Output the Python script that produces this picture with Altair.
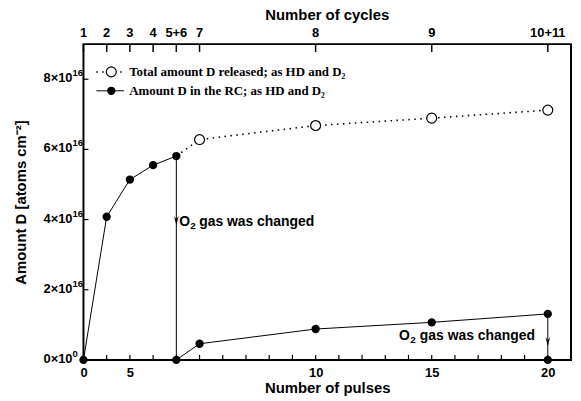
import altair as alt
import pandas as pd

# ---- data (y in units of 1e16 atoms cm^-2) ----
rc_x = [0, 1, 2, 3, 4, 4, 5, 10, 15, 20, 20]
rc_y = [0, 4.08, 5.14, 5.55, 5.81, 0, 0.46, 0.88, 1.07, 1.31, 0]
tot_x = [4, 5, 10, 15, 20]
tot_y = [5.81, 6.28, 6.68, 6.89, 7.12]
tot_open = [False, True, True, True, True]

pulse_ticks = list(range(0, 21))
pulse_label_pos = [0, 2, 10, 15, 20]
pulse_label_txt = ["0", "5", "10", "15", "20"]
cycle_pos = [0, 1, 2, 3, 4, 5, 10, 15, 20]
cycle_labels = ["1", "2", "3", "4", "5+6", "7", "8", "9", "10+11"]
y_ticks = [0, 2, 4, 6, 8]
y_base = ["0×10", "2×10", "4×10", "6×10", "8×10"]
y_exp = ["0", "16", "16", "16", "16"]

ann_x = [4, 20]
ann_y = [3.93, 0.68]
arrow_y = [3.97, 0.52]
ann_main = "O"
ann_sub = "2"
ann_rest = "gas was changed"

legend_text = ["Total amount D released; as HD and D₂", "Amount D in the RC; as HD and D₂"]

W, H = 491, 318
SANS = "Liberation Sans"
SERIF = "Liberation Serif"

xs = alt.Scale(domain=[0, 21], nice=False, zero=False)
ys = alt.Scale(domain=[0, 9], nice=False, zero=False)

rc = pd.DataFrame({"x": rc_x, "y": rc_y, "i": list(range(len(rc_x)))})
tot = pd.DataFrame({"x": tot_x, "y": tot_y, "open": tot_open, "i": list(range(len(tot_x)))})

bl = "+".join(
    [f"(datum.value=={p}?'{t}':'')" for p, t in zip(pulse_label_pos, pulse_label_txt)]
)

x_axis = alt.Axis(
    values=pulse_ticks, labelExpr=bl, ticks=False, domain=False, grid=False,
    labelFont=SANS, labelFontWeight="bold", labelFontSize=13, labelColor="black",
    labelPadding=7, labelFlush=False, labelOverlap=False,
    title="Number of pulses", titleFont=SANS, titleFontWeight="bold",
    titleFontSize=15, titleColor="black", titlePadding=1,
)
y_axis = alt.Axis(
    values=y_ticks, labels=False, ticks=False, domain=False, grid=False,
    title="Amount D [atoms cm⁻²]", titleFont=SANS, titleFontWeight="bold",
    titleFontSize=15, titleColor="black", titlePadding=55,
)


def X(f="x"):
    return alt.X(f"{f}:Q", scale=xs, axis=x_axis)


def Y(f="y"):
    return alt.Y(f"{f}:Q", scale=ys, axis=y_axis)


base_rc = alt.Chart(rc)
rc_line = base_rc.mark_line(color="black", strokeWidth=1).encode(x=X(), y=Y(), order="i:Q")
rc_pts = base_rc.mark_point(filled=True, color="black", size=70, opacity=1).encode(x=X(), y=Y())

base_tot = alt.Chart(tot)
tot_line = base_tot.mark_line(color="black", strokeWidth=1.6, strokeDash=[1.5, 4.5]).encode(
    x=X(), y=Y(), order="i:Q"
)
tot_pts = base_tot.transform_filter("datum.open").mark_point(
    shape="circle", fill="white", stroke="black", strokeWidth=1.2, size=100, opacity=1, fillOpacity=1
).encode(x=X(), y=Y())

# frame
one = pd.DataFrame({"a": [0]})
frame = alt.Chart(one).mark_rect(fill=None, stroke="black", strokeWidth=2).encode(
    x=alt.value(0), x2=alt.value(W), y=alt.value(0), y2=alt.value(H)
)

# inward ticks
bt = alt.Chart(pd.DataFrame({"x": pulse_ticks})).mark_rule(color="black", strokeWidth=1.2).encode(
    x=X(), y=alt.value(H), y2=alt.value(H - 5)
)
tt = alt.Chart(pd.DataFrame({"x": cycle_pos})).mark_rule(color="black", strokeWidth=1.5).encode(
    x=X(), y=alt.value(0), y2=alt.value(8)
)
lt = alt.Chart(pd.DataFrame({"y": y_ticks})).mark_rule(color="black", strokeWidth=1.2).encode(
    y=Y(), x=alt.value(0), x2=alt.value(5)
)
ylab_df = pd.DataFrame({"y": y_ticks, "b": y_base, "e": y_exp})
ylab_base = alt.Chart(ylab_df).mark_text(
    font=SANS, fontWeight="bold", fontSize=13, align="right", baseline="middle", color="black", dy=-1
).encode(y=Y(), x=alt.value(-11), text="b:N")
ylab_exp = alt.Chart(ylab_df).mark_text(
    font=SANS, fontWeight="bold", fontSize=9.5, align="left", baseline="middle", color="black", dy=-6
).encode(y=Y(), x=alt.value(-11), text="e:N")

top_lab = alt.Chart(pd.DataFrame({"x": cycle_pos, "t": cycle_labels})).mark_text(
    font=SANS, fontWeight="bold", fontSize=13, baseline="middle", color="black"
).encode(x=X(), y=alt.value(-11), text="t:N")
top_title = alt.Chart(pd.DataFrame({"t": ["Number of cycles"]})).mark_text(
    font=SANS, fontWeight="bold", fontSize=15, baseline="middle", color="black"
).encode(x=alt.value(W / 2), y=alt.value(-29), text="t:N")

# annotations: "O" + subscript "2" + "gas was changed"
ann = pd.DataFrame({"x": ann_x, "y": ann_y, "ay": arrow_y,
                    "m": [ann_main] * 2, "s": [ann_sub] * 2, "r": [ann_rest] * 2})
a1 = alt.Chart(ann.iloc[[0]])
a2 = alt.Chart(ann.iloc[[1]])


def piece(base, field, align, dx, dy, size):
    return base.mark_text(
        font=SANS, fontWeight="bold", fontSize=size, align=align, baseline="middle",
        dx=dx, dy=dy, color="black",
    ).encode(x=X(), y=Y(), text=f"{field}:N")


ann_layers = [
    piece(a1, "m", "left", 3, 0, 14),
    piece(a1, "s", "left", 14, 4, 10),
    piece(a1, "r", "left", 23, 0, 14),
    piece(a2, "r", "right", -13, 0, 14),
    piece(a2, "s", "right", -133, 4, 10),
    piece(a2, "m", "right", -139, 0, 14),
]
arrows = alt.Chart(ann).mark_point(
    shape="M-0.5,-1L0,1L0.5,-1L0,-0.3Z", filled=True, color="black", size=90, opacity=1
).encode(x=X(), y=Y("ay"))

# legend (manual)
leg1_line = alt.Chart(one).mark_rule(color="black", strokeWidth=1.6, strokeDash=[1.5, 4.5]).encode(
    x=alt.value(13), x2=alt.value(41), y=alt.value(28)
)
leg1_pt = alt.Chart(one).mark_point(
    shape="circle", fill="white", stroke="black", strokeWidth=1.2, size=100, opacity=1, fillOpacity=1
).encode(x=alt.value(28), y=alt.value(28))
leg2_line = alt.Chart(one).mark_rule(color="black", strokeWidth=1).encode(
    x=alt.value(13), x2=alt.value(41), y=alt.value(47)
)
leg2_pt = alt.Chart(one).mark_point(filled=True, color="black", size=70, opacity=1).encode(
    x=alt.value(28), y=alt.value(47)
)
leg_txt = alt.Chart(pd.DataFrame({"t": legend_text, "yy": [28, 47]})).mark_text(
    font=SERIF, fontWeight="bold", fontSize=13, align="left", baseline="middle", color="black"
).encode(x=alt.value(46), y=alt.Y("yy:Q", scale=None, axis=None), text="t:N")

chart = alt.layer(
    rc_line, tot_line, frame, bt, tt, lt, ylab_base, ylab_exp, top_lab, top_title,
    *ann_layers, arrows, leg1_line, leg2_line, leg_txt, rc_pts, tot_pts, leg1_pt, leg2_pt,
).properties(
    width=W, height=H,
    autosize=alt.AutoSizeParams(type="none"),
    padding={"left": 76, "top": 35, "right": 2, "bottom": 39},
    background="white",
).configure_view(stroke=None)

chart.save("out.html", embed_options={"renderer": "svg", "actions": False})
